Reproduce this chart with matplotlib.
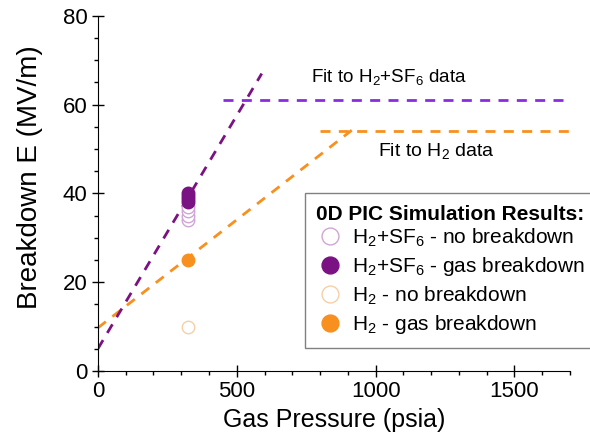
import numpy as np
import matplotlib.pyplot as plt
from matplotlib.ticker import MultipleLocator

plt.rcParams['font.family'] = ['Liberation Sans', 'DejaVu Sans']
plt.rcParams['mathtext.fontset'] = 'custom'
plt.rcParams['mathtext.rm'] = 'Liberation Sans'

# simulation results (pressure in psia, field in MV/m)
p_sim = 325
sf6_nobreak = [34, 35, 36, 37]
sf6_break = [38, 38.7, 39.3, 40]
h2_nobreak = [10]
h2_break = [25]

# fit lines
sf6_fit_x = [0, 590]
sf6_fit_y = [5, 67]
sf6_flat_x = [450, 1675]
sf6_flat_y = [61, 61]
h2_fit_x = [0, 930]
h2_fit_y = [9.7, 55]
h2_flat_x = [800, 1700]
h2_flat_y = [54, 54]

PURPLE = '#7b1283'
VIOLET = '#8a2be2'
ORANGE = '#f7901e'

fig = plt.figure(figsize=(5.9, 4.41), dpi=100)
ax = fig.add_axes([0.166, 0.159, 0.8, 0.805])

dash = (3.6, 3)
ax.plot(h2_fit_x, h2_fit_y, color=ORANGE, lw=2, dashes=dash)
ax.plot(h2_flat_x, h2_flat_y, color=ORANGE, lw=2, dashes=dash)
ax.plot(sf6_fit_x, sf6_fit_y, color=PURPLE, lw=2, dashes=dash)
ax.plot(sf6_flat_x, sf6_flat_y, color=VIOLET, lw=2, dashes=dash)

ax.plot([p_sim] * len(sf6_nobreak), sf6_nobreak, 'o', ms=9, mfc='white',
        mec='#cfa6d6', mew=1, ls='none', label='H$_\\mathregular{2}$+SF$_\\mathregular{6}$ - no breakdown')
ax.plot([p_sim] * len(sf6_break), sf6_break, 'o', ms=9, mfc=PURPLE,
        mec=PURPLE, ls='none', label='H$_\\mathregular{2}$+SF$_\\mathregular{6}$ - gas breakdown')
ax.plot([p_sim] * len(h2_nobreak), h2_nobreak, 'o', ms=9, mfc='white',
        mec='#f6cfa8', mew=1, ls='none', label='H$_\\mathregular{2}$ - no breakdown')
ax.plot([p_sim] * len(h2_break), h2_break, 'o', ms=9, mfc=ORANGE,
        mec=ORANGE, ls='none', label='H$_\\mathregular{2}$ - gas breakdown')

ax.text(1050, 66, 'Fit to H$_\\mathregular{2}$+SF$_\\mathregular{6}$ data', fontsize=13.6,
        ha='center', va='center')
ax.text(1220, 49.3, 'Fit to H$_\\mathregular{2}$ data', fontsize=14,
        ha='center', va='center')

ax.set_xlim(0, 1700)
ax.set_ylim(0, 80)
ax.xaxis.set_major_locator(MultipleLocator(500))
ax.xaxis.set_minor_locator(MultipleLocator(100))
ax.yaxis.set_major_locator(MultipleLocator(20))
ax.yaxis.set_minor_locator(MultipleLocator(5))
ax.tick_params(which='major', direction='inout', length=8, width=1, labelsize=16)
ax.tick_params(which='minor', direction='out', length=3, width=1)
for s in ['top', 'right']:
    ax.spines[s].set_visible(False)

ax.set_xlabel('Gas Pressure (psia)', fontsize=18)
ax.set_ylabel('Breakdown E (MV/m)', fontsize=20, y=0.546, labelpad=14)

leg = fig.legend(loc='upper left', bbox_to_anchor=(0.517, 0.562), borderaxespad=0,
                 fontsize=15, markerscale=1.35,
                 title='0D PIC Simulation Results:', title_fontproperties={'weight': 'bold', 'size': 15},
                 fancybox=False, edgecolor='#808080', framealpha=1,
                 handletextpad=0.4, labelspacing=0.3, borderpad=0.55, handlelength=1.3)
leg._legend_box.align = 'left'
leg._legend_box.sep = 2
leg.get_frame().set_linewidth(1)

fig.savefig('out.png', dpi=100)
